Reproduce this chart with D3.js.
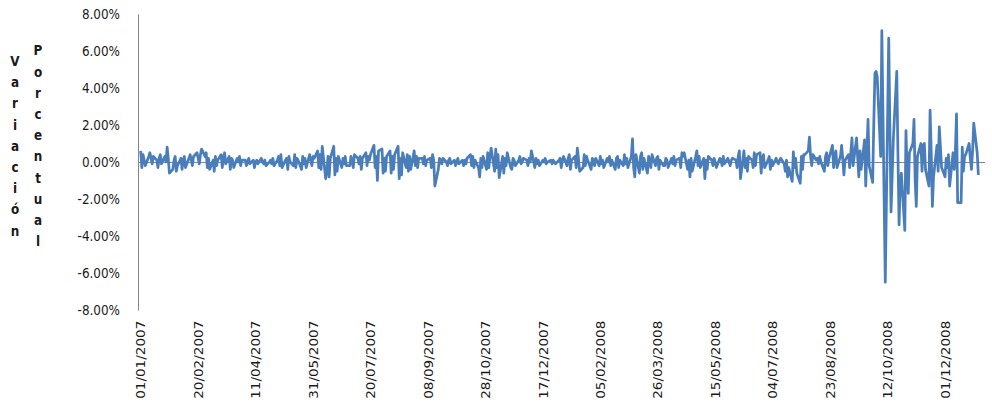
<!DOCTYPE html>
<html>
<head>
<meta charset="utf-8">
<title>Variación porcentual</title>
<script src="https://cdnjs.cloudflare.com/ajax/libs/d3/7.8.5/d3.min.js"></script>
<style>
  body { margin: 0; background: #fff; }
  svg { display: block; }
  .tick text { font-family: "DejaVu Sans", sans-serif; font-size: 12px; fill: #1a1a1a; }
  .ytitle { font-family: "DejaVu Sans", sans-serif; font-size: 12px; font-weight: bold; fill: #1a1a1a; }
</style>
</head>
<body>
<script>
// layout
var width = 992, height = 406;
var plotLeft = 138, plotRight = 985, plotTop = 14, plotBottom = 310;

// axis labels
var yTicks = [-8, -6, -4, -2, 0, 2, 4, 6, 8];
var tickLabels = ["01/01/2007", "20/02/2007", "11/04/2007", "31/05/2007", "20/07/2007",
  "08/09/2007", "28/10/2007", "17/12/2007", "05/02/2008", "26/03/2008", "15/05/2008",
  "04/07/2008", "23/08/2008", "12/10/2008", "01/12/2008"];
var titleWords = ["Variación", "Porcentual"];

// daily % change, one row per month (trading days only)
var var2007 = [
  [0.6, -0.3, 0.4, 0.1, -0.2, 0.3, 0.5, 0.2, -0.1, 0.3, 0.1, -0.3, 0.2, 0.4, -0.1, 0.3, 0.0, 0.8, 0.2, -0.6, -0.4, 0.1, 0.3],
  [-0.5, -0.2, 0.2, -0.4, 0.1, 0.3, -0.3, 0.2, 0.4, 0.1, -0.2, 0.3, 0.5, 0.2, -0.1, 0.4, 0.7, 0.3, 0.5, -0.3],
  [0.2, -0.4, 0.1, -0.5, 0.3, -0.2, 0.1, 0.4, -0.3, 0.2, 0.5, -0.1, 0.3, -0.4, 0.2, 0.1, -0.3, 0.2, 0.0, 0.3, -0.2, 0.1],
  [0.1, -0.2, 0.0, 0.2, -0.1, 0.1, -0.3, 0.0, 0.1, -0.1, 0.2, 0.0, -0.1, 0.1, -0.2, 0.0, 0.1, -0.1, 0.2, -0.2, 0.1],
  [0.3, -0.2, 0.4, -0.3, 0.1, 0.2, -0.4, 0.3, 0.0, -0.2, 0.4, -0.3, 0.2, 0.1, -0.4, 0.3, -0.1, 0.2, -0.3, 0.4, 0.1, -0.2, 0.3],
  [0.2, 0.6, -0.3, 0.4, -0.4, 0.85, -0.9, -0.5, 0.3, -0.8, 0.2, 0.85, -0.7, 0.2, -0.5, 0.3, -0.3, 0.2, -0.1, 0.3, -0.2],
  [-0.2, 0.3, 0.1, -0.3, 0.4, 0.2, -0.1, 0.3, -0.4, 0.2, 0.5, -0.2, 0.3, 0.1, 0.4, 0.9, -0.3, 0.3, -1.0, 0.6, 0.7, -0.6],
  [0.2, -0.5, 0.3, 0.6, -0.6, 0.3, -0.4, 0.4, 0.85, -0.9, 0.2, -0.7, 0.5, -0.3, 0.4, -0.5, 0.3, -0.4, 0.6, -0.2, 0.3, -0.3, 0.2],
  [0.2, -0.1, 0.3, -0.2, 0.1, 0.2, -0.3, 0.4, 0.1, -1.3, -0.4, 0.2, 0.1, -0.1, 0.2, 0.0, -0.2, 0.1, 0.2, -0.1],
  [0.1, -0.2, 0.0, 0.2, -0.1, 0.1, -0.2, 0.1, -0.1, 0.2, 0.4, -0.2, 0.3, -0.3, 0.1, -0.3, -0.8, 0.2, -0.3, 0.3, -0.4, 0.5, -0.3],
  [0.3, 0.75, -0.5, 0.7, -0.3, 0.4, -0.85, 0.3, -0.6, 0.2, -0.2, 0.5, -0.3, -0.4, 0.2, 0.1, -0.2, 0.1, 0.3, -0.1, 0.0, 0.2],
  [0.1, -0.2, 0.2, 0.0, 0.6, -0.3, 0.2, -0.1, 0.1, -0.2, 0.1, 0.0, 0.2, -0.1, 0.0, 0.1, -0.1, 0.1, 0.0, -0.1, 0.1]
];
var var2008 = [
  [0.2, -0.3, 0.1, 0.3, -0.2, 0.2, 0.4, -0.4, 0.1, 0.3, -0.3, 0.75, 0.2, -0.5, -0.3, 0.4, -0.2, 0.3, 0.1, -0.4, 0.2, 0.1, -0.2],
  [0.2, -0.2, 0.3, -0.1, 0.1, -0.3, 0.2, 0.0, 0.3, -0.2, 0.1, -0.4, 0.2, 0.3, -0.3, 0.1, -0.2, 0.4, -0.1, 0.2, -0.3],
  [0.3, 1.25, -0.3, -0.8, 0.4, -0.6, 0.3, 0.5, -0.4, 0.2, -0.6, 0.3, 0.1, -0.3, 0.4, -0.2, 0.2, 0.3, -0.4, 0.1, -0.2],
  [-0.2, 0.2, 0.1, -0.3, 0.2, -0.1, 0.3, -0.2, 0.1, 0.2, -0.3, 0.5, 0.3, 0.5, -0.4, 0.1, -0.8, 0.2, -0.5, 0.3, 0.6, -0.2],
  [0.3, -0.3, 0.2, -0.9, 0.1, -0.4, 0.3, 0.1, -0.2, 0.2, 0.0, -0.3, 0.2, 0.1, -0.2, 0.3, -0.1, 0.2, 0.0, -0.2, 0.1, 0.2],
  [0.1, -0.3, 0.3, 0.6, -0.9, 0.6, -0.3, 0.2, -0.5, 0.3, 0.1, -0.3, 0.5, -0.2, 0.4, 0.5, -0.6, 0.2, 0.4, -0.3, 0.1],
  [0.3, -0.4, 0.1, -0.2, 0.2, 0.0, -0.1, 0.1, 0.2, -0.1, -0.5, 0.1, -0.8, -0.3, -1.05, 0.55, -0.3, 0.2, -0.6, -1.15, 0.3, -0.4, 0.4],
  [0.4, 0.6, 1.35, 0.3, -0.2, 0.4, 0.1, 0.2, -0.1, 0.3, 0.0, -0.5, 0.3, 0.5, -0.2, 0.2, 0.9, -0.3, 0.3, 0.6, -0.3],
  [0.3, 0.9, 0.2, -0.7, 0.1, 0.4, -0.3, 0.5, 1.3, -0.2, 1.3, 0.2, -0.8, 0.6, -0.4, 1.2, -1.3, 0.6, 2.3, -0.2, -1.1, 2.1],
  [4.8, 4.9, 4.6, 0.3, 7.1, 2.5, -2.0, -6.5, 6.7, 2.0, -2.7, -0.8, 1.2, 4.9, 0.5, -3.4, -1.2, -0.6, -3.7, 1.7, -0.5, -1.7, 0.5],
  [1.0, 2.3, -1.0, -2.4, 0.3, 1.0, -0.5, 0.9, 1.0, -0.4, -1.3, 2.8, 0.5, -2.4, -0.8, 0.9, -0.5, 1.9, 0.8, -0.3],
  [-0.8, 0.2, -0.3, 0.4, -1.3, 0.5, -0.4, 0.6, 2.6, -2.2, -2.2, 0.8, -0.5, 0.3, 0.4, 1.0, 0.2, -0.4, 0.6, 2.1, 0.5, -0.7]
];

function weekdays(year, month) {
  var days = [];
  var d = new Date(year, month, 1);
  while (d.getMonth() === month) {
    if (d.getDay() !== 0 && d.getDay() !== 6) days.push(new Date(d));
    d.setDate(d.getDate() + 1);
  }
  return days;
}

var data = [];
[[2007, var2007], [2008, var2008]].forEach(function(p) {
  p[1].forEach(function(vals, m) {
    var days = weekdays(p[0], m);
    vals.forEach(function(v, i) {
      if (days[i]) data.push({date: days[i], value: v});
    });
  });
});

var parseDate = d3.timeParse("%d/%m/%Y");

var svg = d3.select("body").append("svg")
    .attr("width", width)
    .attr("height", height);

var x = d3.scaleTime()
    .domain([new Date(2007, 0, 1), new Date(2008, 11, 31)])
    .range([140.7, 979.5]);

var y = d3.scaleLinear()
    .domain([-8, 8])
    .range([plotBottom, plotTop]);

// horizontal axis line at 0
svg.append("line")
    .attr("x1", plotLeft).attr("x2", plotRight)
    .attr("y1", Math.round(y(0)) + 0.5).attr("y2", Math.round(y(0)) + 0.5)
    .attr("stroke", "#868686");

// y axis
var yAxis = svg.append("g")
    .attr("transform", "translate(" + plotLeft + ",0)")
    .call(d3.axisLeft(y).tickValues(yTicks).tickSize(0).tickPadding(18)
      .tickFormat(function(d) { return d.toFixed(2) + "%"; }));
yAxis.select(".domain").attr("stroke", "#868686");
yAxis.selectAll(".tick text").attr("transform", "scale(1,1.13)");

// x axis labels
var xAxis = svg.append("g")
    .attr("transform", "translate(0," + plotBottom + ")")
    .call(d3.axisBottom(x).tickValues(tickLabels.map(parseDate)).tickSize(0)
      .tickFormat(d3.timeFormat("%d/%m/%Y")));
xAxis.select(".domain").remove();
xAxis.selectAll(".tick text")
    .attr("text-anchor", "end")
    .attr("transform", "rotate(-90) scale(1.13,1)")
    .attr("x", -9.5)
    .attr("y", 0)
    .attr("dy", "0.35em");

// stacked vertical title
var titleX = [15, 38], step = 21.2, mid = 146;
titleWords.forEach(function(w, k) {
  var letters = Array.from(w);
  letters.forEach(function(ch, i) {
    svg.append("g")
        .attr("transform", "translate(" + titleX[k] + "," + (mid + (i - (letters.length - 1) / 2) * step) + ")")
      .append("text")
        .attr("class", "ytitle")
        .attr("text-anchor", "middle")
        .attr("dy", "0.35em")
        .attr("transform", "scale(1,1.13)")
        .text(ch);
  });
});

// series
var line = d3.line()
    .x(function(d) { return x(d.date); })
    .y(function(d) { return y(d.value); });

svg.append("path")
    .datum(data)
    .attr("fill", "none")
    .attr("stroke", "#4A7EBB")
    .attr("stroke-width", 2.75)
    .attr("stroke-linejoin", "round")
    .attr("d", line);
</script>
</body>
</html>
